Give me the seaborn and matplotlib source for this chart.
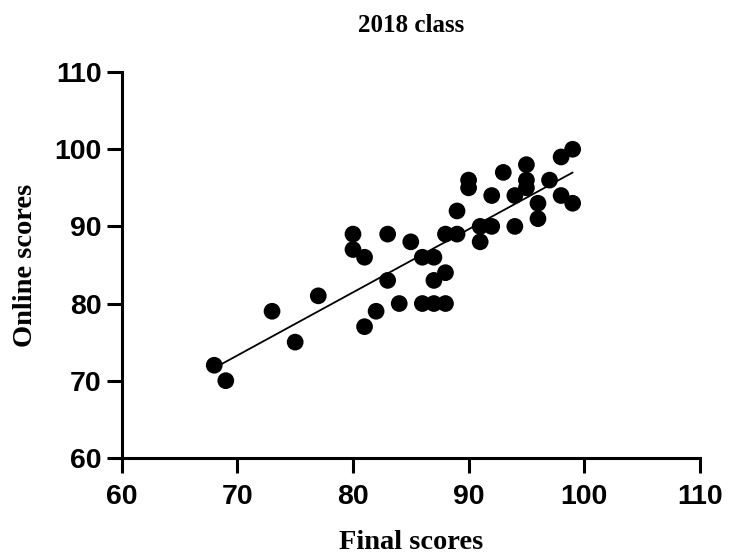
import matplotlib
matplotlib.use("Agg")
import matplotlib.pyplot as plt
import seaborn as sns
import pandas as pd

final_scores = [68, 69, 73, 75, 77, 80, 80, 81, 81, 82, 83, 83, 84, 85, 86, 86, 87, 87, 87,
                88, 88, 88, 89, 89, 90, 90, 91, 91, 92, 92, 93, 94, 94, 95, 95, 95,
                96, 96, 97, 98, 98, 99, 99]
online_scores = [72, 70, 79, 75, 81, 89, 87, 86, 77, 79, 89, 83, 80, 88, 86, 80, 86, 83, 80,
                 84, 80, 89, 92, 89, 96, 95, 90, 88, 94, 90, 97, 94, 90, 98, 96, 95,
                 93, 91, 96, 99, 94, 100, 93]
x_ticks = [60, 70, 80, 90, 100, 110]
y_ticks = [60, 70, 80, 90, 100, 110]

df = pd.DataFrame({"Final scores": final_scores, "Online scores": online_scores})

sns.set_style("white")
plt.rcParams["text.color"] = "black"
plt.rcParams["axes.labelcolor"] = "black"
plt.rcParams["xtick.color"] = "black"
plt.rcParams["ytick.color"] = "black"

fig = plt.figure(figsize=(7.29, 5.59), dpi=100)
ax = fig.add_axes([0.167, 0.181, 0.793, 0.690])

sns.regplot(data=df, x="Final scores", y="Online scores", ax=ax, ci=None,
            scatter_kws=dict(s=145, color="black", edgecolor="none", alpha=1, zorder=3),
            line_kws=dict(color="black", lw=1.3, zorder=2))

ax.set_xlim(60, 110)
ax.set_ylim(60, 110)
ax.set_xticks(x_ticks)
ax.set_yticks(y_ticks)
ax.set_xticklabels([str(t) for t in x_ticks], fontfamily="Liberation Sans", fontweight="bold", fontsize=20.5, color="black")
ax.set_yticklabels([str(t) for t in y_ticks], fontfamily="Liberation Sans", fontweight="bold", fontsize=20.5, color="black")
for s in ["top", "right"]:
    ax.spines[s].set_visible(False)
for s in ["left", "bottom"]:
    ax.spines[s].set_linewidth(2.2)
    ax.spines[s].set_color("black")
ax.tick_params(axis="both", direction="out", length=11, width=2.2, color="black",
               bottom=True, left=True)
ax.tick_params(axis="x", pad=8)
ax.tick_params(axis="y", pad=3.5)

ax.set_xlabel("Final scores", fontfamily="Liberation Serif", fontweight="bold", fontsize=20.5, labelpad=14, color="black")
ax.set_ylabel("Online scores", fontfamily="Liberation Serif", fontweight="bold", fontsize=20.5, labelpad=12, color="black")
fig.text(0.564, 1 - 25 / 559, "2018 class", fontfamily="Liberation Serif", fontweight="bold",
         fontsize=18, ha="center", va="center", color="black")

fig.savefig("out.png", dpi=100)
